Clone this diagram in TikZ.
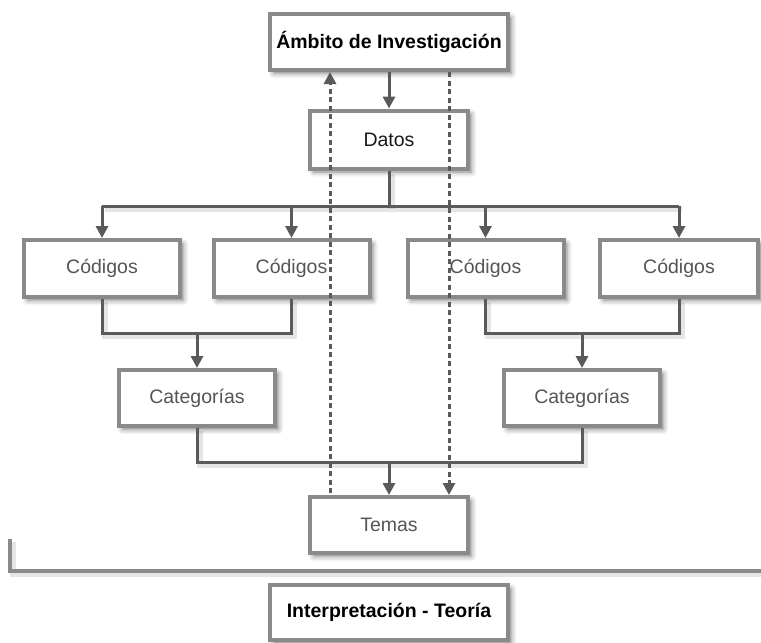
\documentclass[tikz,border=0pt]{standalone}
\usepackage{fontspec}
\setmainfont{Liberation Sans}
\usetikzlibrary{arrows.meta,shadows.blur}

\definecolor{boxgray}{HTML}{8A8A8A}
\definecolor{linegray}{HTML}{5A5A5A}
\definecolor{textgray}{HTML}{555555}

\tikzset{
  box/.style={draw=boxgray, line width=4pt, fill=white, rectangle,
    font=\fontsize{19.5pt}{23pt}\selectfont, text=textgray,
    minimum width=156pt, minimum height=57pt, inner sep=0pt,
    blur shadow={shadow xshift=3.5pt, shadow yshift=-3.5pt,
      shadow blur radius=5pt, shadow opacity=50}},
  headbox/.style={box, font=\fontsize{19.5pt}{23pt}\selectfont\bfseries, text=black},
  lineshadow/.style={preaction={draw=black, draw opacity=0.10, line width=6pt,
      transform canvas={xshift=2.5pt, yshift=-3pt}}},
  plainline/.style={draw=linegray, line width=3pt},
  conn/.style={plainline, lineshadow},
  arr/.style={plainline, -{Triangle[width=12pt,length=12pt]}},
  dashconn/.style={draw=linegray, line width=3pt, dash pattern=on 5pt off 3.5pt},
  dasharr/.style={dashconn, -{Triangle[width=12pt,length=12pt]}},
  bracket/.style={draw=boxgray, line width=4pt, lineshadow}
}

\begin{document}
\begin{tikzpicture}[x=1pt, y=-1pt]
  \useasboundingbox (0,0) rectangle (761,643);

  % boxes
  \node[headbox, minimum width=238pt, minimum height=56pt] (amb) at (389,42) {Ámbito de Investigación};
  \node[box, text=black!90, minimum width=158pt, minimum height=58pt] (datos) at (389,139.5) {Datos};
  \node[box] (c1) at (102,268.5) {Códigos};
  \node[box] (c2) at (291.5,268.5) {Códigos};
  \node[box] (c3) at (485.5,268.5) {Códigos};
  \node[box, minimum width=158pt] (c4) at (679,268.5) {Códigos};
  \node[box, minimum height=56pt] (cat1) at (197,398) {Categorías};
  \node[box, minimum height=56pt] (cat2) at (582,398) {Categorías};
  \node[box, minimum width=158pt, minimum height=56pt] (temas) at (389,525) {Temas};
  \node[headbox, minimum width=238pt, minimum height=55pt] (interp) at (389,612.5) {Interpretación - Teoría};

  % junction levels
  \coordinate (split) at (389,206);
  \coordinate (j1) at (0,333);
  \coordinate (j2) at (0,462);

  % Ámbito to Datos
  \draw[arr] (amb.south) -- (datos.north);

  % Datos to the four Códigos
  \draw[conn] (datos.south) -- (split);
  \draw[conn] (c1.north |- split) -- (c4.north |- split);
  \draw[arr] (c1.north |- split) -- (c1.north);
  \draw[arr] (c2.north |- split) -- (c2.north);
  \draw[arr] (c3.north |- split) -- (c3.north);
  \draw[arr] (c4.north |- split) -- (c4.north);

  % Códigos to Categorías
  \draw[conn] (c1.south) -- (c1.south |- j1) -- (c2.south |- j1) -- (c2.south);
  \draw[arr] (cat1.north |- j1) -- (cat1.north);
  \draw[conn] (c3.south) -- (c3.south |- j1) -- (c4.south |- j1) -- (c4.south);
  \draw[arr] (cat2.north |- j1) -- (cat2.north);

  % Categorías to Temas
  \draw[conn] (cat1.south) -- (cat1.south |- j2) -- (cat2.south |- j2) -- (cat2.south);
  \draw[arr] (temas.north |- j2) -- (temas.north);

  % feedback lines between Temas and Ámbito
  \coordinate (dl) at (330,493);
  \coordinate (dr) at (449,300);
  \draw[dasharr] (dl) -- (dl |- amb.south);
  \draw[dasharr] (dr |- amb.south) -- (dr |- temas.north);

  % separating bracket
  \coordinate (lt) at (10,539);
  \coordinate (lc) at (10,571);
  \coordinate (lr) at (763,571);
  \draw[bracket] (lt) -- (lc) -- (lr);
\end{tikzpicture}
\end{document}
